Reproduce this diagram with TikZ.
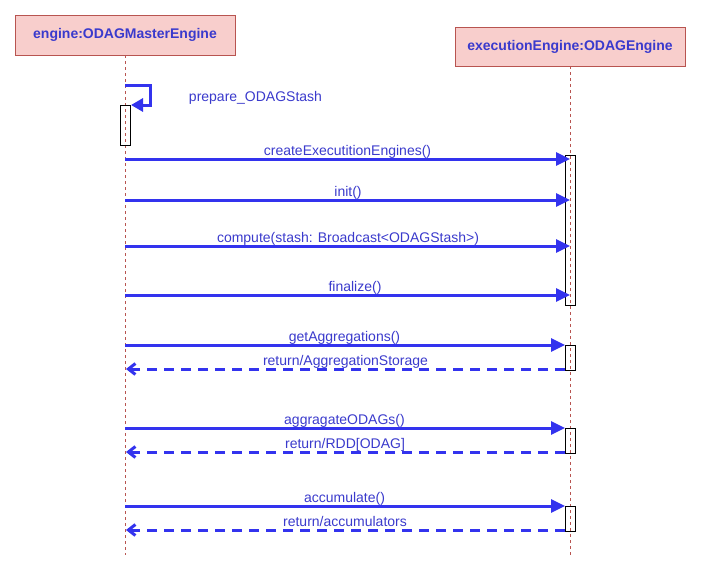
\documentclass[tikz,border=0pt]{standalone}
\usepackage{fontspec}
\setmainfont{Liberation Sans}
\usetikzlibrary{arrows.meta}
\definecolor{objfill}{HTML}{F8CECC}
\definecolor{objline}{HTML}{B85450}
\definecolor{msgline}{HTML}{3333EE}
\definecolor{msgtext}{HTML}{3A3ACC}
\tikzset{
  obj/.style={draw=objline, fill=objfill, line width=0.8pt, minimum height=40pt, inner sep=0pt,
    font=\fontsize{14pt}{16pt}\selectfont\bfseries, text=msgtext},
  lifeline/.style={draw=objline, line width=0.7pt, dash pattern=on 3pt off 3pt},
  actbox/.style={draw=black, line width=0.8pt},
  callmsg/.style={draw=msgline, line width=3pt, -{Triangle[length=14pt,width=13pt]}},
  retmsg/.style={draw=msgline, line width=3pt, dash pattern=on 10pt off 7pt,
    -{Straight Barb[length=7pt,width=11pt,line width=3pt]}},
  msglabel/.style={anchor=base, inner sep=0pt, font=\fontsize{14pt}{16pt}\selectfont, text=msgtext}
}
\begin{document}
\begin{tikzpicture}[x=1pt,y=-1pt]
\useasboundingbox (0,0) rectangle (701,571);
% objects
\node[obj, minimum width=220pt] (m) at (125,35) {engine:ODAGMasterEngine};
\node[obj, minimum width=230pt, minimum height=39pt] (e) at (570,46.5) {executionEngine:ODAGEngine};
% lifelines
\coordinate (mend) at (125,555);
\coordinate (eend) at (570,555);
\draw[lifeline] (m.south) -- (mend);
\draw[lifeline] (e.south) -- (eend);
% activation boxes
\draw[actbox] (120,105) rectangle (130,145);
\draw[actbox] (565,155) rectangle (575,305);
\draw[actbox] (565,345) rectangle (575,370);
\draw[actbox] (565,428) rectangle (575,453);
\draw[actbox] (565,506) rectangle (575,531);
% self call
\coordinate (s0) at (125,85);
\coordinate (s1) at (150.5,85);
\coordinate (s2) at (150.5,105);
\coordinate (s3) at (131,105);
\draw[callmsg, -{Triangle[length=12pt,width=13pt]}] (s0) -- (s1) -- (s2) -- (s3);
\node[msglabel] (lp) at (255.5,101) {prepare\_ODAGStash};
% calls
\foreach \y/\ex/\nm in {159/570/c1, 200/570/c2, 246/570/c3, 295/570/c4, 345/565/c5, 428/565/c6, 506/565/c7}{
  \coordinate (\nm a) at (125,\y);
  \coordinate (\nm b) at (\ex,\y);
  \draw[callmsg] (\nm a) -- (\nm b);
}
\node[msglabel] (l1) at (347.5,155) {createExecutitionEngines()};
\node[msglabel] (l2) at (348,196) {init()};
\node[msglabel] (l3) at (348,242) {compute(stash: Broadcast<ODAGStash>)};
\node[msglabel] (l4) at (355,291) {finalize()};
\node[msglabel] (l5) at (344.5,341) {getAggregations()};
\node[msglabel] (l6) at (344.5,424) {aggragateODAGs()};
\node[msglabel] (l7) at (344.5,502) {accumulate()};
% returns
\foreach \y/\nm in {369/r1, 452/r2, 530/r3}{
  \coordinate (\nm a) at (565,\y);
  \coordinate (\nm b) at (126,\y);
  \draw[retmsg] (\nm a) -- (\nm b);
}
\node[msglabel] (lr1) at (345.5,365) {return/AggregationStorage};
\node[msglabel] (lr2) at (345,448) {return/RDD[ODAG]};
\node[msglabel] (lr3) at (345,526) {return/accumulators};
\end{tikzpicture}
\end{document}
